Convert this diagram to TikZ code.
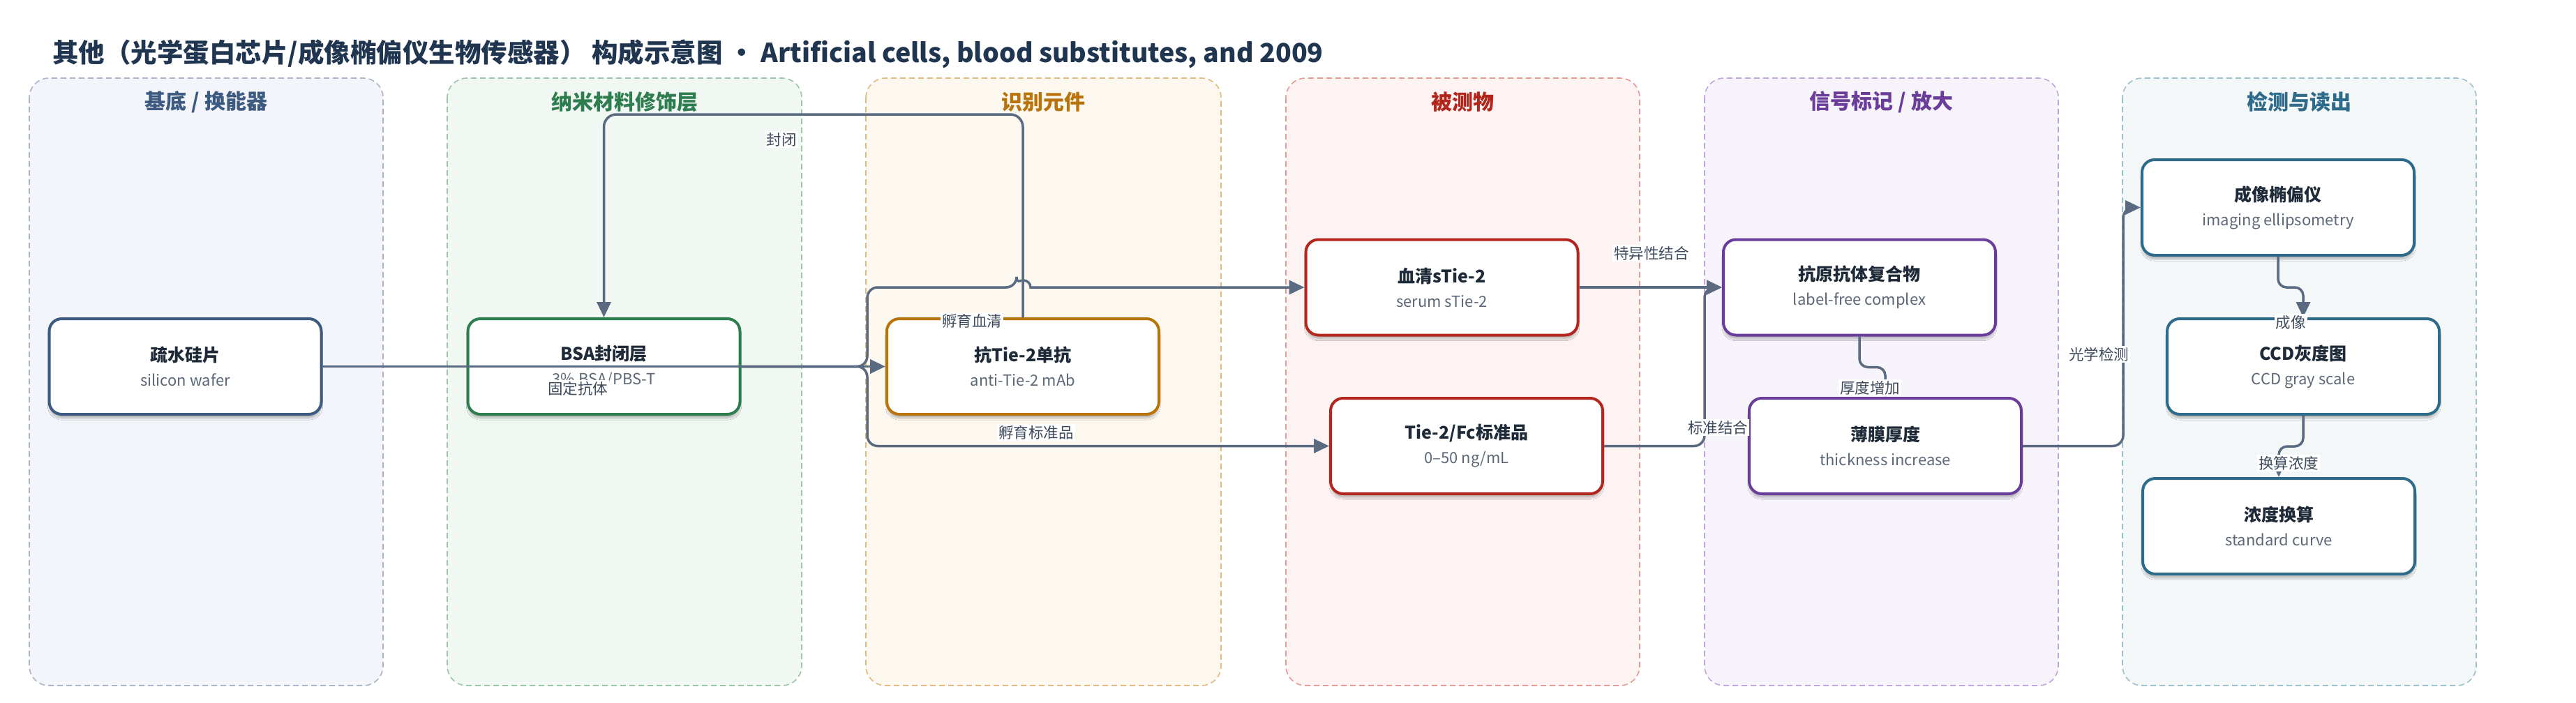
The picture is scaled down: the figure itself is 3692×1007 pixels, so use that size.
\documentclass[tikz,border=0pt]{standalone}
\usepackage{fontspec}
\setmainfont{Noto Sans CJK SC}
\usetikzlibrary{arrows.meta,shadows.blur}
\definecolor{titleblue}{HTML}{1F3550}
\definecolor{ink}{HTML}{1E2A38}
\definecolor{subgray}{HTML}{5C6878}
\definecolor{edgegray}{HTML}{5A6A80}
\definecolor{lblgray}{HTML}{3D4A5C}
\definecolor{slate}{HTML}{3D5A80}
\definecolor{leaf}{HTML}{2E7D4F}
\definecolor{amber}{HTML}{B8730A}
\definecolor{brick}{HTML}{B3261E}
\definecolor{plum}{HTML}{6A3D9A}
\definecolor{sea}{HTML}{2E6B8A}
\definecolor{slatebg}{HTML}{F4F5FA}
\definecolor{leafbg}{HTML}{F1F8F3}
\definecolor{amberbg}{HTML}{FDF8EF}
\definecolor{brickbg}{HTML}{FDF3F2}
\definecolor{plumbg}{HTML}{F6F3FB}
\definecolor{seabg}{HTML}{F3F7F8}
\definecolor{slateline}{HTML}{A9B4C8}
\definecolor{leafline}{HTML}{9AC5A6}
\definecolor{amberline}{HTML}{E2B97E}
\definecolor{brickline}{HTML}{E49A95}
\definecolor{plumline}{HTML}{C0A6DC}
\definecolor{sealine}{HTML}{9CC0CC}
\tikzset{
  lane/.style={rounded corners=28pt, line width=1.6pt, dash pattern=on 8pt off 5pt},
  lanehead/.style={font=\fontsize{30}{36}\selectfont\bfseries},
  block/.style={draw, fill=white, text=ink, line width=4pt, rounded corners=18pt,
    minimum width=390pt, minimum height=137pt, align=center, font=\fontsize{25}{35}\selectfont,
    blur shadow={shadow xshift=0pt, shadow yshift=-6pt, shadow blur steps=6, shadow opacity=22}},
  edge/.style={draw=edgegray, line width=3.5pt, -{Triangle[length=22pt,width=20pt]}},
  edgelbl/.style={fill=white, text=lblgray, inner sep=2pt, font=\fontsize{21.5}{24}\selectfont},
}
\newcommand{\blocktext}[2]{{\bfseries #1}\\{\color{subgray}\fontsize{22}{35}\selectfont #2}}

\begin{document}
\begin{tikzpicture}[x=1pt, y=-1pt]
\useasboundingbox (0,0) rectangle (3692,1007);
\fill[white] (0,0) rectangle (3692,1007);
\node[anchor=west, inner sep=0pt, text=titleblue, font=\fontsize{37.5}{44}\selectfont\bfseries] (title) at (75,77)
  {其他（光学蛋白芯片/成像椭偏仪生物传感器） 构成示意图 • Artificial cells, blood substitutes, and 2009};

\filldraw[lane, fill=slatebg, draw=slateline] (42,112) rectangle (549,983);
\filldraw[lane, fill=leafbg, draw=leafline] (641,112) rectangle (1149,983);
\filldraw[lane, fill=amberbg, draw=amberline] (1241,112) rectangle (1750,983);
\filldraw[lane, fill=brickbg, draw=brickline] (1843,112) rectangle (2350,983);
\filldraw[lane, fill=plumbg, draw=plumline] (2443,112) rectangle (2950,983);
\filldraw[lane, fill=seabg, draw=sealine] (3042,112) rectangle (3549,983);
\node[lanehead, text=slate] (h1) at (295.5,146) {基底 / 换能器};
\node[lanehead, text=leaf] (h2) at (895,146) {纳米材料修饰层};
\node[lanehead, text=amber] (h3) at (1495.5,146) {识别元件};
\node[lanehead, text=brick] (h4) at (2096.5,146) {被测物};
\node[lanehead, text=plum] (h5) at (2696.5,146) {信号标记 / 放大};
\node[lanehead, text=sea] (h6) at (3295.5,146) {检测与读出};

\node[block, draw=slate] (wafer) at (265.5,525.5) {\blocktext{疏水硅片}{silicon wafer}};
\node[block, draw=leaf] (bsa) at (865.5,525.5) {\blocktext{BSA封闭层}{3\% BSA/PBS-T}};
\node[block, draw=amber] (mab) at (1466,525.5) {\blocktext{抗Tie-2单抗}{anti-Tie-2 mAb}};
\node[block, draw=brick] (serum) at (2066.5,412) {\blocktext{血清sTie-2}{serum sTie-2}};
\node[block, draw=brick] (std) at (2102,639.5) {\blocktext{Tie-2/Fc标准品}{0–50 ng/mL}};
\node[block, draw=plum] (complex) at (2665,412) {\blocktext{抗原抗体复合物}{label-free complex}};
\node[block, draw=plum] (film) at (2702,639.5) {\blocktext{薄膜厚度}{thickness increase}};
\node[block, draw=sea] (ellip) at (3265,297.5) {\blocktext{成像椭偏仪}{imaging ellipsometry}};
\node[block, draw=sea] (ccd) at (3301,525.5) {\blocktext{CCD灰度图}{CCD gray scale}};
\node[block, draw=sea] (curve) at (3266,754.5) {\blocktext{浓度换算}{standard curve}};

\coordinate (blk) at (1166,164);
\coordinate (split) at (1243,525.5);
\coordinate (hop) at (1457,412);
\coordinate (join) at (2443,639.5);
\coordinate (turn) at (3043,639.5);

\draw[edge] (wafer.east) -- (mab.west);
\draw[edge, rounded corners=18pt] (mab.north) |- (blk) -| (bsa.north);
\draw[edge, rounded corners=15pt] (bsa.east) -- (split) |- (hop) [sharp corners] arc[start angle=180, end angle=0, radius=10pt] -- (serum.west);
\draw[edge, rounded corners=15pt] (bsa.east) -- (split) |- (std.west);
\draw[edge] (serum.east) -- (complex.west);
\draw[edge, rounded corners=15pt] (std.east) -- (join) |- (complex.west);
\draw[edge, rounded corners=12pt] (complex.south) -- ++(0,44) -| (film.north);
\draw[edge, rounded corners=15pt] (film.east) -- (turn) |- (ellip.west);
\draw[edge, rounded corners=12pt] (ellip.south) -- ++(0,44) -| (ccd.north);
\draw[edge, rounded corners=12pt] (ccd.south) -- ++(0,44) -| (curve.north);

\node[edgelbl] (l1) at (828,557) {固定抗体};
\node[edgelbl] (l2) at (1120,200) {封闭};
\node[edgelbl] (l3) at (1393,460) {孵育血清};
\node[edgelbl] (l4) at (1485,620) {孵育标准品};
\node[edgelbl] (l5) at (2367,363) {特异性结合};
\node[edgelbl] (l6) at (2462,613) {标准结合};
\node[edgelbl] (l7) at (2680,556) {厚度增加};
\node[edgelbl] (l8) at (3008,508) {光学检测};
\node[edgelbl] (l9) at (3283,462) {成像};
\node[edgelbl] (l10) at (3280,664) {换算浓度};
\end{tikzpicture}
\end{document}
